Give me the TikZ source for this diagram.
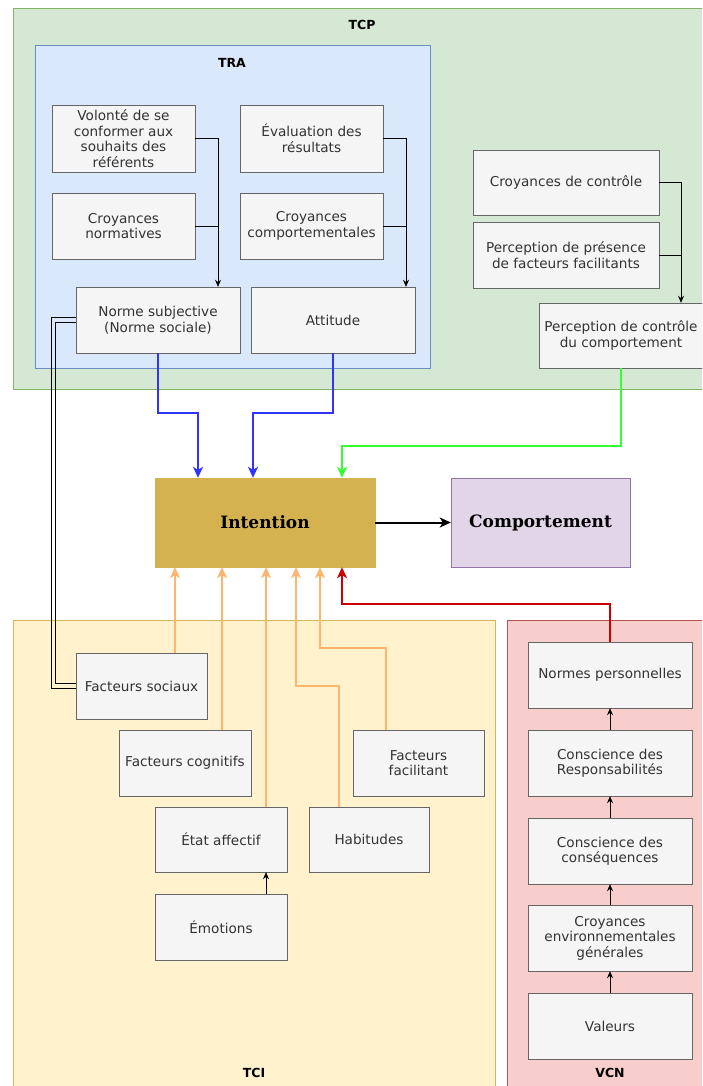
\documentclass[tikz,border=0pt]{standalone}
\usepackage{fontspec}
\setmainfont{DejaVu Sans}
\newfontfamily\serifbold{DejaVu Serif}
\usetikzlibrary{arrows.meta}

\definecolor{boxfill}{HTML}{F5F5F5}
\definecolor{boxline}{HTML}{666666}
\definecolor{txtgray}{HTML}{333333}
\definecolor{tcpfill}{HTML}{D5E8D4}
\definecolor{tcpline}{HTML}{82B366}
\definecolor{trafill}{HTML}{DAE8FC}
\definecolor{traline}{HTML}{6C8EBF}
\definecolor{tcifill}{HTML}{FFF2CC}
\definecolor{tciline}{HTML}{D6B656}
\definecolor{vcnfill}{HTML}{F8CECC}
\definecolor{vcnline}{HTML}{B85450}
\definecolor{intfill}{HTML}{D4B24F}
\definecolor{compfill}{HTML}{E1D5E7}
\definecolor{compline}{HTML}{9673A6}
\definecolor{blue1}{HTML}{3333FF}
\definecolor{green1}{HTML}{33FF33}
\definecolor{orange1}{HTML}{FFB570}
\definecolor{red1}{HTML}{CC0000}

\begin{document}
\begin{tikzpicture}[x=1pt, y=-1pt,
    every node/.style={font=\fontsize{13.6}{15.5}\selectfont, text=txtgray},
    box/.style={draw=boxline, fill=boxfill, align=center, inner sep=0pt, minimum height=66pt},
    title/.style={font=\bfseries\fontsize{12.5}{14}\selectfont, text=black},
    big/.style={font=\serifbold\bfseries\fontsize{17}{20}\selectfont, text=black, minimum height=89pt, inner sep=0pt},
    thinarr/.style={draw=black, line width=0.75pt, -{Stealth[length=7pt,width=6pt]}},
    fatarr/.style={line width=1.6pt, -{Stealth[length=11pt,width=10pt,inset=3pt]}},
    link/.style={draw=black, line width=0.8pt}]
    \path[use as bounding box, clip] (0,0) rectangle (702,1086);

    % groupes
    \draw[draw=tcpline, fill=tcpfill] (13,8) rectangle (712,389);
    \node[title] (tcp) at (362,25) {TCP};
    \draw[draw=traline, fill=trafill] (35,45) rectangle (430,368);
    \node[title] (tra) at (232,63) {TRA};
    \draw[draw=tciline, fill=tcifill] (13,620) rectangle (495,1095);
    \node[title] (tci) at (254,1073) {TCI};
    \draw[draw=vcnline, fill=vcnfill] (507,620) rectangle (712,1095);
    \node[title] (vcn) at (610,1073) {VCN};

    % TRA
    \node[box, minimum width=143pt, minimum height=67pt] (vol) at (123.5,138.5) {Volonté de se\\conformer aux\\souhaits des\\référents};
    \node[box, minimum width=143pt, minimum height=67pt] (eva) at (311.5,138.5) {Évaluation des\\résultats};
    \node[box, minimum width=143pt] (cn) at (123.5,226) {Croyances\\normatives};
    \node[box, minimum width=143pt] (cc) at (311.5,226) {Croyances\\comportementales};
    \node[box, minimum width=164pt] (ns) at (158,320) {Norme subjective\\(Norme sociale)};
    \node[box, minimum width=164pt] (att) at (333,320) {Attitude};

    % TCP
    \node[box, minimum width=186pt, minimum height=65pt] (cdc) at (566,182.5) {Croyances de contrôle};
    \node[box, minimum width=186pt] (ppf) at (566,255) {Perception de présence\\de facteurs facilitants};
    \node[box, minimum width=164pt, minimum height=65pt] (pcc) at (621,335.5) {Perception de contrôle\\du comportement};

    % centre
    \node[big, draw=intfill, fill=intfill, minimum width=220pt] (int) at (265,522.5) {Intention};
    \node[big, draw=compline, fill=compfill, minimum width=179pt] (comp) at (540.5,522.5) {Comportement};

    % TCI
    \node[box, minimum width=131pt] (fs) at (141.5,686) {Facteurs sociaux};
    \node[box, minimum width=132pt] (fc) at (185,763) {Facteurs cognitifs};
    \node[box, minimum width=131pt] (ff) at (418.5,763) {Facteurs\\facilitant};
    \node[box, minimum width=132pt, minimum height=65pt] (ea) at (221,839.5) {État affectif};
    \node[box, minimum width=120pt, minimum height=65pt] (hab) at (369,839.5) {Habitudes};
    \node[box, minimum width=132pt] (emo) at (221,927) {Émotions};

    % VCN
    \node[box, minimum width=164pt] (np) at (610,675) {Normes personnelles};
    \node[box, minimum width=164pt] (cr) at (610,763) {Conscience des\\Responsabilités};
    \node[box, minimum width=164pt] (cq) at (610,851) {Conscience des\\conséquences};
    \node[box, minimum width=164pt] (ceg) at (610,938) {Croyances\\environnementales\\générales};
    \node[box, minimum width=164pt] (val) at (610,1026) {Valeurs};

    % liens fins
    \coordinate (j1) at ([xshift=60pt]ns.north);
    \coordinate (j2) at ([xshift=73pt]att.north);
    \coordinate (j3) at ([xshift=60pt]pcc.north);
    \draw[thinarr] (vol.east) -| (j1);
    \draw[thinarr, -] (cn.east) -- (cn.east -| j1);
    \draw[thinarr] (eva.east) -| (j2);
    \draw[thinarr, -] (cc.east) -- (cc.east -| j2);
    \draw[thinarr] (cdc.east) -| (j3);
    \draw[thinarr, -] (ppf.east) -- (ppf.east -| j3);
    \draw[thinarr] ([xshift=45pt]emo.north) -- ([xshift=45pt]ea.south);
    \path[thinarr] (val) edge (ceg) (ceg) edge (cq) (cq) edge (cr) (cr) edge (np);
    \draw[link] ([yshift=2.5pt]ns.west) -- ++(-24,0) |- ([yshift=-2.5pt]fs.west);
    \draw[link] ([yshift=-2.5pt]ns.west) -- ++(-20,0) |- ([yshift=2.5pt]fs.west);

    % vers Intention
    \coordinate (in1) at ([xshift=-67pt]int.north);
    \coordinate (in2) at ([xshift=-12pt]int.north);
    \coordinate (in3) at ([xshift=77pt]int.north);
    \draw[fatarr, blue1] (ns.south) -- ++(0,60) -| (in1);
    \draw[fatarr, blue1] (att.south) -- ++(0,60) -| (in2);
    \draw[fatarr, green1] (pcc.south) -- ++(0,78) -| (in3);

    \coordinate (o1) at ([xshift=-90pt]int.south);
    \coordinate (o2) at ([xshift=-43pt]int.south);
    \coordinate (o3) at ([xshift=1pt]int.south);
    \coordinate (o4) at ([xshift=31pt]int.south);
    \coordinate (o5) at ([xshift=55pt]int.south);
    \coordinate (o6) at ([xshift=77pt]int.south);
    \draw[fatarr, orange1] (o1 |- fs.north) -- (o1);
    \draw[fatarr, orange1] (o2 |- fc.north) -- (o2);
    \draw[fatarr, orange1] (o3 |- ea.north) -- (o3);
    \draw[fatarr, orange1] ([xshift=-30pt]hab.north) -- ++(0,-121) -| (o4);
    \draw[fatarr, orange1] ([xshift=-32.5pt]ff.north) -- ++(0,-82) -| (o5);
    \draw[fatarr, red1] (np.north) -- ++(0,-38) -| (o6);

    \path[fatarr, black, line width=2pt] (int) edge (comp);
\end{tikzpicture}
\end{document}
